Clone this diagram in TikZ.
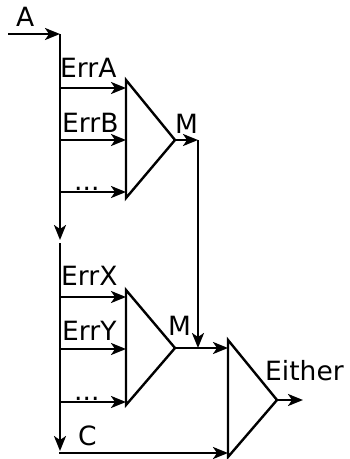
\documentclass[tikz,border=0pt]{standalone}
\usepackage{fontspec}
\setmainfont{DejaVu Sans}
\usetikzlibrary{arrows.meta}
\begin{document}
\begin{tikzpicture}[x=1pt,y=-1pt,
  >={Stealth[length=15pt,width=12pt,inset=4pt]},
  arr/.style={->,line width=2.4pt,line cap=butt},
  mux/.style={line width=2.4pt,line join=miter},
  lbl/.style={anchor=base west,inner sep=0pt,font=\fontsize{26.5}{30}\selectfont}]
\useasboundingbox (0,0) rectangle (349,459);
% named points
\coordinate (ain) at (8,34);
\coordinate (a) at (60,34);
\coordinate (s1) at (60,240);
\coordinate (s2) at (60,243);
\coordinate (s3) at (60,451);
\coordinate (c0) at (59,453);
% mux 1
\coordinate (m1t) at (126,80);
\coordinate (m1b) at (126,198);
\coordinate (m1o) at (175,140);
\coordinate (ea) at (60,88);  \coordinate (eai) at (126,88);
\coordinate (eb) at (60,140); \coordinate (ebi) at (126,140);
\coordinate (ec) at (60,192); \coordinate (eci) at (126,192);
\coordinate (m1r) at (198,140);
\coordinate (m1d) at (198,348);
% mux 2
\coordinate (m2t) at (126,290);
\coordinate (m2b) at (126,405);
\coordinate (m2o) at (175,348);
\coordinate (ex) at (60,297);  \coordinate (exi) at (126,297);
\coordinate (ey) at (60,349);  \coordinate (eyi) at (126,349);
\coordinate (ez) at (60,402);  \coordinate (ezi) at (126,402);
% mux 3
\coordinate (m3t) at (228,340);
\coordinate (m3b) at (228,457);
\coordinate (m3o) at (277,400);
\coordinate (m3a) at (228,348);
\coordinate (m3c) at (228,453);
\coordinate (out) at (303,400);
% shapes
\draw[mux] (m1t) -- (m1b) -- (m1o) -- cycle;
\draw[mux] (m2t) -- (m2b) -- (m2o) -- cycle;
\draw[mux] (m3t) -- (m3b) -- (m3o) -- cycle;
% connectors
\draw[arr] (ain) -- (a);
\draw[arr] (a) -- (s1);
\draw[arr] (s2) -- (s3);
\draw[arr] (c0) -- (m3c);
\draw[arr] (ea) -- (eai);
\draw[arr] (eb) -- (ebi);
\draw[arr] (ec) -- (eci);
\draw[arr] (ex) -- (exi);
\draw[arr] (ey) -- (eyi);
\draw[arr] (ez) -- (ezi);
\draw[arr] (m1o) -- (m1r);
\draw[arr] (m1r) -- (m1d);
\draw[arr] (m2o) -- (m3a);
\draw[arr] (m3o) -- (out);
% labels
\node[lbl] (la) at (16,26) {A};
\node[lbl] (lea) at (60,77) {ErrA};
\node[lbl] (leb) at (62,132) {ErrB};
\node[lbl] (lec) at (74,190) {...};
\node[lbl] (lm1) at (175,133) {M};
\node[lbl] (lex) at (61,285) {ErrX};
\node[lbl] (ley) at (62,340) {ErrY};
\node[lbl] (lez) at (74,400) {...};
\node[lbl] (lm2) at (168,335) {M};
\node[lbl] (lc) at (78,445) {C};
\node[lbl] (leither) at (265,380) {Either};
\end{tikzpicture}
\end{document}
